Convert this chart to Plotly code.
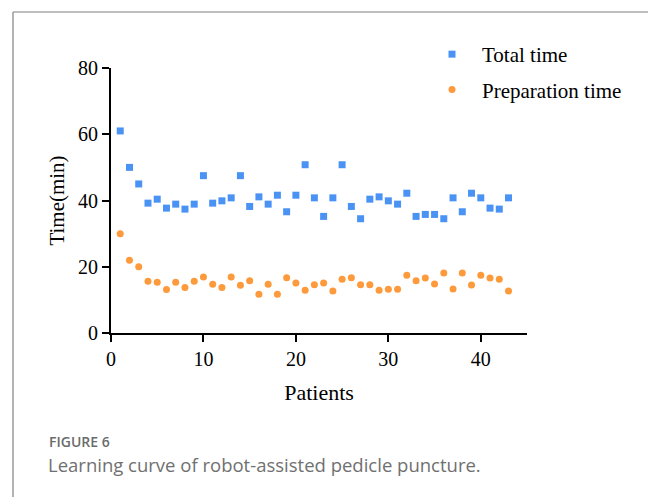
import plotly.graph_objects as go

patients = list(range(1, 44))
total_time = [61.0, 50.0, 45.0, 39.2, 40.4, 37.7, 38.9, 37.4, 38.9, 47.5,
              39.2, 39.9, 40.8, 47.5, 38.2, 41.1, 38.9, 41.6, 36.6, 41.6,
              50.8, 40.8, 35.2, 40.8, 50.8, 38.2, 34.5, 40.4, 41.1, 39.9,
              38.9, 42.2, 35.2, 35.8, 35.8, 34.5, 40.8, 36.6, 42.2, 40.8,
              37.7, 37.4, 40.8]
prep_time = [30.0, 22.0, 20.0, 15.6, 15.3, 13.1, 15.3, 13.7, 15.6, 16.9,
             14.7, 13.7, 16.9, 14.4, 15.8, 11.7, 14.7, 11.7, 16.7, 15.1,
             12.9, 14.6, 15.1, 12.7, 16.2, 16.7, 14.6, 14.6, 12.9, 13.2,
             13.2, 17.4, 15.8, 16.6, 14.8, 18.1, 13.3, 18.1, 14.5, 17.4,
             16.6, 16.2, 12.7]
x_ticks = [0, 10, 20, 30, 40]
y_ticks = [0, 20, 40, 60, 80]

# the page body adds an 8px offset; work in reference pixel coords, shifted
OFF = 8
W, H = 656 - OFF, 497 - OFF
L, R, T, B = 111 - OFF, 527 - OFF, 68 - OFF, 333 - OFF

serif = "Liberation Serif, Times New Roman, serif"
sans = "Open Sans, Noto Sans, sans-serif"

fig = go.Figure()
fig.add_trace(go.Scatter(x=patients, y=total_time, mode="markers", name="Total time",
                         legendgroup="total",
                         marker=dict(symbol="square", size=7, color="#4a93f5")))
fig.add_trace(go.Scatter(x=patients, y=prep_time, mode="markers", name="Preparation time",
                         legendgroup="prep",
                         marker=dict(symbol="circle", size=7, color="#fd9a3c")))

def px_x(p):
    return (p - OFF - L) / (R - L)

def px_y(p):
    return (B - (p - OFF)) / (B - T)

axis_common = dict(showgrid=False, zeroline=False, showline=True, linecolor="black",
                   linewidth=2, ticks="outside", ticklen=7, tickwidth=2, tickcolor="black",
                   tickfont=dict(family=serif, size=20, color="black"))

fig.update_layout(
    width=W, height=H,
    margin=dict(l=L, r=W - R, t=T, b=H - B),
    paper_bgcolor="white", plot_bgcolor="white",
    xaxis=dict(range=[0, 45], tickvals=x_ticks, **axis_common,
               title=dict(text="Patients", font=dict(family=serif, size=22, color="black"), standoff=16)),
    yaxis=dict(range=[0, 80], tickvals=y_ticks, **axis_common,
               title=dict(text="Time(min)", font=dict(family=serif, size=21, color="black"), standoff=8)),
    legend=dict(x=px_x(422), y=px_y(34), xanchor="left", yanchor="top",
                font=dict(family=serif, size=21, color="black"),
                itemwidth=50, bgcolor="rgba(0,0,0,0)", tracegroupgap=5),
    showlegend=True,
)

# figure frame
fig.add_shape(type="line", xref="paper", yref="paper",
              x0=px_x(13), x1=px_x(655), y0=px_y(12), y1=px_y(12),
              line=dict(color="#a8a8a8", width=1.5))
fig.add_shape(type="line", xref="paper", yref="paper",
              x0=px_x(13), x1=px_x(13), y0=px_y(12), y1=px_y(520),
              line=dict(color="#9a9a9a", width=1.5))
fig.add_shape(type="line", xref="paper", yref="paper",
              x0=px_x(655), x1=px_x(655), y0=px_y(12), y1=px_y(520),
              line=dict(color="#555555", width=1.5))

fig.add_annotation(xref="paper", yref="paper", x=px_x(47), y=px_y(441), xanchor="left", yanchor="middle",
                   text="FIGURE 6", showarrow=False,
                   font=dict(family=sans, size=14, color="#6b6b6b", weight=600))
fig.add_annotation(xref="paper", yref="paper", x=px_x(46), y=px_y(464), xanchor="left", yanchor="middle",
                   text="Learning curve of robot-assisted pedicle puncture.", showarrow=False,
                   font=dict(family=sans, size=18.5, color="#707070"))

fig.write_html("out.html")
